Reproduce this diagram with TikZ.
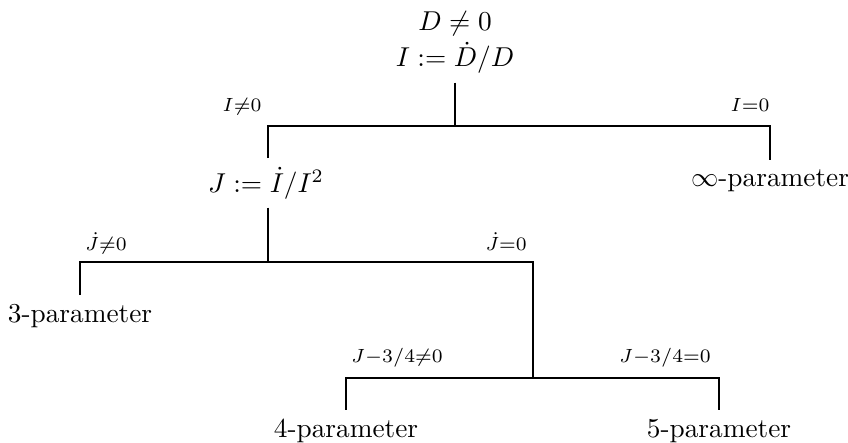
\documentclass[tikz,border=0pt]{standalone}
\usepackage{amsmath}
\begin{document}
\begin{tikzpicture}[x=0.3663pt,y=-0.3663pt,
  conn/.style={line width=0.75pt},
  txt/.style={anchor=base,inner sep=3pt},
  lbl/.style={anchor=base,inner sep=0pt}]
\useasboundingbox (0,0) rectangle (848,442);
% nodes
\node[txt] (d) at (455,31) {$D\neq0$};
\node[txt] (i) at (455,67) {$I:=\dot D/D$};
\node[txt] (j) at (266,192) {$J:=\dot I/I^2$};
\node[txt] (inf) at (770,186) {$\infty$-parameter};
\node[txt] (p3) at (80,322) {3-parameter};
\node[txt] (p4) at (346,437) {4-parameter};
\node[txt] (p5) at (719,437) {5-parameter};
% junctions
\coordinate (b1) at (455,126);
\coordinate (c1) at (268,126);
\coordinate (b2) at (268,262);
\coordinate (b3) at (533,378);
% connectors
\draw[conn] (i.south) -- (b1);
\draw[conn] (j.north -| b2) -- (c1) -- (inf.north |- b1) -- (inf.north);
\draw[conn] (j.south -| b2) -- (b2);
\draw[conn] (p3.north) -- (p3.north |- b2) -- (b3 |- b2) -- (b3);
\draw[conn] (p4.north) -- (p4.north |- b3) -- (p5.north |- b3) -- (p5.north);
% labels
\node[lbl] (l1) at (242,112) {$\scriptstyle I\neq0$};
\node[lbl] (l2) at (750,112) {$\scriptstyle I=0$};
\node[lbl] (l3) at (106,250) {$\scriptstyle \dot J\neq0$};
\node[lbl] (l4) at (506,250) {$\scriptstyle \dot J=0$};
\node[lbl] (l5) at (397,362) {$\scriptstyle J-3/4\neq0$};
\node[lbl] (l6) at (665,362) {$\scriptstyle J-3/4=0$};
\end{tikzpicture}
\end{document}
